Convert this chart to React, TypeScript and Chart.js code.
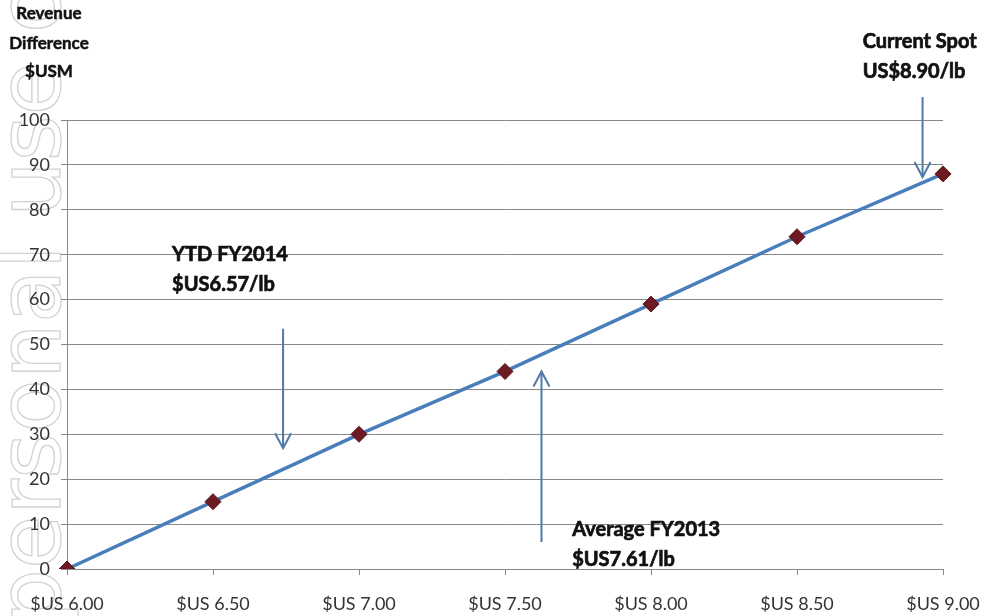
import React, { useEffect, useRef } from "react";
import { Chart, registerables } from "chart.js";

Chart.register(...registerables);

const categories = ["$US 6.00", "$US 6.50", "$US 7.00", "$US 7.50", "$US 8.00", "$US 8.50", "$US 9.00"];
const revenueDifference = [0, 15, 30, 44, 59, 74, 88];
const yAxisMin = 0;
const yAxisMax = 100;
const yAxisStep = 10;
const axisTitleLines = ["Revenue", "Difference", "$USM"];

const ytdLines = ["YTD FY2014", "$US6.57/lb"];
const avgLines = ["Average FY2013", "$US7.61/lb"];
const spotLines = ["Current Spot", "US$8.90/lb"];

// label anchor (category index, value), arrow (category index, from value, to value)
const annotationSpecs = [
  { lines: ytdLines, labelX: 0.72, labelY: 70, arrowX: 1.48, arrowFrom: 53.5, arrowTo: 26.9 },
  { lines: avgLines, labelX: 3.46, labelY: 8.7, arrowX: 3.25, arrowFrom: 6, arrowTo: 44 },
  { lines: spotLines, labelX: 5.45, labelY: 117.4, arrowX: 5.86, arrowFrom: 105.1, arrowTo: 87.3 },
];

const watermarkText = "For personal use only";

const FONT = "Lato, 'Open Sans', sans-serif";
const ARROW_COLOR = "#4f7aa8";

const watermarkPlugin = {
  id: "watermark",
  beforeDraw(chart: any) {
    const ctx = chart.ctx as CanvasRenderingContext2D;
    ctx.save();
    ctx.font = `88px 'DejaVu Sans', sans-serif`;
    const lead = ctx.measureText("For ").width;
    ctx.translate(60, 625 + lead);
    ctx.rotate(-Math.PI / 2);
    ctx.strokeStyle = "#d2d2d2";
    ctx.lineWidth = 1.3;
    ctx.textBaseline = "alphabetic";
    ctx.strokeText(watermarkText, 0, 0);
    ctx.restore();
  },
};

const annotationPlugin = {
  id: "annotations",
  afterDraw(chart: any) {
    const ctx = chart.ctx as CanvasRenderingContext2D;
    const xs = chart.scales.x;
    const ys = chart.scales.y;
    ctx.save();
    // axis title
    ctx.fillStyle = "#111";
    ctx.strokeStyle = "#111";
    ctx.lineWidth = 0.5;
    ctx.font = `bold 17px ${FONT}`;
    ctx.textAlign = "center";
    ctx.textBaseline = "middle";
    const titleY = [14, 44, 72];
    axisTitleLines.forEach((t, i) => {
      ctx.fillText(t, 49, titleY[i]);
      ctx.strokeText(t, 49, titleY[i]);
    });

    for (const a of annotationSpecs) {
      const x = xs.getPixelForValue(a.arrowX);
      const y1 = ys.getPixelForValue(a.arrowFrom);
      const y2 = ys.getPixelForValue(a.arrowTo);
      ctx.strokeStyle = ARROW_COLOR;
      ctx.lineWidth = 2;
      ctx.beginPath();
      ctx.moveTo(x, y1);
      ctx.lineTo(x, y2);
      ctx.stroke();
      const dir = y2 > y1 ? 1 : -1;
      ctx.beginPath();
      ctx.moveTo(x - 8, y2 - dir * 15);
      ctx.lineTo(x, y2);
      ctx.lineTo(x + 8, y2 - dir * 15);
      ctx.stroke();

      const lx = xs.getPixelForValue(a.labelX);
      const ly = ys.getPixelForValue(a.labelY);
      ctx.fillStyle = "#111";
      ctx.strokeStyle = "#111";
      ctx.lineWidth = 0.7;
      ctx.font = `bold 20px ${FONT}`;
      ctx.textAlign = "left";
      ctx.textBaseline = "middle";
      a.lines.forEach((t, i) => {
        ctx.fillText(t, lx, ly + i * 30);
        ctx.strokeText(t, lx, ly + i * 30);
      });
    }
    ctx.restore();
  },
};

export default function App() {
  const ref = useRef<HTMLCanvasElement | null>(null);
  useEffect(() => {
    if (!ref.current) return;
    const chart = new Chart(ref.current, {
      type: "line",
      data: {
        labels: categories,
        datasets: [
          {
            data: revenueDifference,
            borderColor: "#4a7ebb",
            borderWidth: 3.5,
            pointStyle: "rectRot",
            pointRadius: 8,
            pointBackgroundColor: "#6e1a22",
            pointBorderColor: "#5a1418",
            pointBorderWidth: 1,
            tension: 0,
          },
        ],
      },
      options: {
        animation: false,
        responsive: false,
        maintainAspectRatio: false,
        layout: { padding: { top: 120, right: 43, left: 0, bottom: 0 } },
        plugins: { legend: { display: false }, tooltip: { enabled: false } },
        scales: {
          x: {
            type: "category",
            offset: false,
            afterFit: (s: any) => {
              s.height = 47;
              s.paddingLeft = 0;
              s.paddingRight = 0;
            },
            grid: { drawOnChartArea: false, drawTicks: true, tickLength: 6, color: "#888" },
            border: { display: true, color: "#888" },
            ticks: { font: { family: FONT, size: 18 }, color: "#333", padding: 18, maxRotation: 0, autoSkip: false },
          },
          y: {
            min: yAxisMin,
            max: yAxisMax,
            afterFit: (s: any) => {
              s.width = 67;
            },
            grid: { color: "#888", tickLength: 6, lineWidth: 1 },
            border: { display: true, color: "#888" },
            ticks: { stepSize: yAxisStep, font: { family: FONT, size: 18 }, color: "#333", padding: 11 },
          },
        },
      },
      plugins: [watermarkPlugin, annotationPlugin],
    });
    return () => chart.destroy();
  }, []);
  return (
    <div style={{ position: "fixed", left: 0, top: 0, width: 986, height: 616, background: "#fff" }}>
      <canvas ref={ref} width={986} height={616} />
    </div>
  );
}
